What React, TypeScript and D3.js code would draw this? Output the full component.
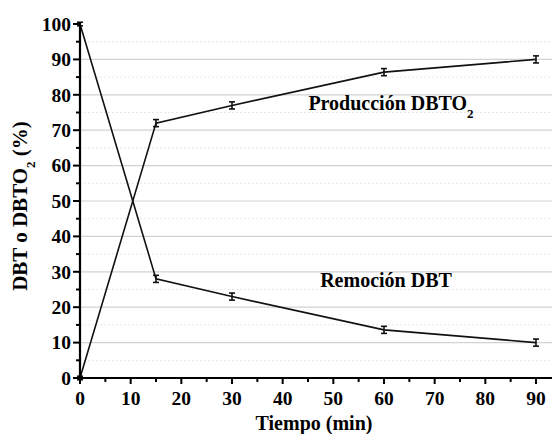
import React from "react";
import * as d3 from "d3";

const times = [0, 15, 30, 60, 90];
const remocion = [100, 28, 23, 13.6, 10];
const remocionErr = [0.5, 1, 1, 1, 1];
const produccion = [0, 72, 77, 86.4, 90];
const produccionErr = [0.5, 1, 1, 1, 1];
const xTicks = [0, 10, 20, 30, 40, 50, 60, 70, 80, 90, 100];
const yTicks = [0, 10, 20, 30, 40, 50, 60, 70, 80, 90, 100];

const W = 552, H = 434;
const x = d3.scaleLinear().domain([0, 90]).range([80, 536]);
const y = d3.scaleLinear().domain([0, 100]).range([378, 24]);
const font = "'Liberation Serif', 'Times New Roman', serif";

export default function App() {
  const line = d3.line<number>().x((_, i) => x(times[i])).y((d) => y(d));
  const minorY = d3.range(5, 100, 10);
  const minorX = d3.range(5, 100, 10);
  const series = [
    { v: remocion, e: remocionErr },
    { v: produccion, e: produccionErr },
  ];
  return (
    <svg width={W} height={H} style={{ position: "absolute", left: 0, top: 0, background: "#fff" }}>
      <rect width={W} height={H} fill="#fff" />
      {minorY.map((t) => (
        <line key={"my" + t} x1={80} x2={W} y1={y(t)} y2={y(t)} stroke="#e8e8e8" strokeWidth={1} strokeDasharray="2,2" />
      ))}
      {yTicks.filter((t) => t > 0 && t < 100).map((t) => (
        <line key={"gy" + t} x1={80} x2={W} y1={y(t)} y2={y(t)} stroke="#d2d2d2" strokeWidth={1.2} />
      ))}
      {series.map((s, k) => (
        <g key={k}>
          <path d={line(s.v) || ""} fill="none" stroke="#111" strokeWidth={1.6} />
          {s.v.map((v, i) => (
            <g key={i} stroke="#111" strokeWidth={1.6}>
              <line x1={x(times[i])} x2={x(times[i])} y1={y(v - s.e[i])} y2={y(v + s.e[i])} />
              <line x1={x(times[i]) - 3} x2={x(times[i]) + 3} y1={y(v - s.e[i])} y2={y(v - s.e[i])} />
              <line x1={x(times[i]) - 3} x2={x(times[i]) + 3} y1={y(v + s.e[i])} y2={y(v + s.e[i])} />
            </g>
          ))}
        </g>
      ))}
      {/* axes */}
      <line x1={80} x2={80} y1={22} y2={379} stroke="#000" strokeWidth={2.2} />
      <line x1={79} x2={W} y1={378} y2={378} stroke="#000" strokeWidth={2.2} />
      {yTicks.map((t) => (
        <g key={"yt" + t}>
          <line x1={73} x2={80} y1={y(t)} y2={y(t)} stroke="#000" strokeWidth={2} />
          <text x={71} y={y(t)} dy="0.35em" textAnchor="end" fontFamily={font} fontWeight="bold" fontSize={19.5}>
            {t}
          </text>
        </g>
      ))}
      {minorY.map((t) => (
        <line key={"ymt" + t} x1={76} x2={80} y1={y(t)} y2={y(t)} stroke="#000" strokeWidth={2} />
      ))}
      {xTicks.map((t) => (
        <g key={"xt" + t}>
          <line x1={x(t)} x2={x(t)} y1={378} y2={384} stroke="#000" strokeWidth={2} />
          {t <= 90 && (
            <text x={x(t)} y={405} textAnchor="middle" fontFamily={font} fontWeight="bold" fontSize={19.5}>
              {t}
            </text>
          )}
        </g>
      ))}
      {minorX.map((t) => (
        <line key={"xmt" + t} x1={x(t)} x2={x(t)} y1={378} y2={382} stroke="#000" strokeWidth={2} />
      ))}
      <text x={314} y={430} textAnchor="middle" fontFamily={font} fontWeight="bold" fontSize={20}>
        Tiempo (min)
      </text>
      <text transform="translate(27,206) rotate(-90)" textAnchor="middle" fontFamily={font} fontWeight="bold" fontSize={21}>
        DBT o DBTO<tspan baselineShift="sub" fontSize={13}>2</tspan> (%)
      </text>
      <text x={391} y={110} textAnchor="middle" fontFamily={font} fontWeight="bold" fontSize={20}>
        Producción DBTO<tspan baselineShift="sub" fontSize={13}>2</tspan>
      </text>
      <text x={386} y={287} textAnchor="middle" fontFamily={font} fontWeight="bold" fontSize={20}>
        Remoción DBT
      </text>
    </svg>
  );
}
